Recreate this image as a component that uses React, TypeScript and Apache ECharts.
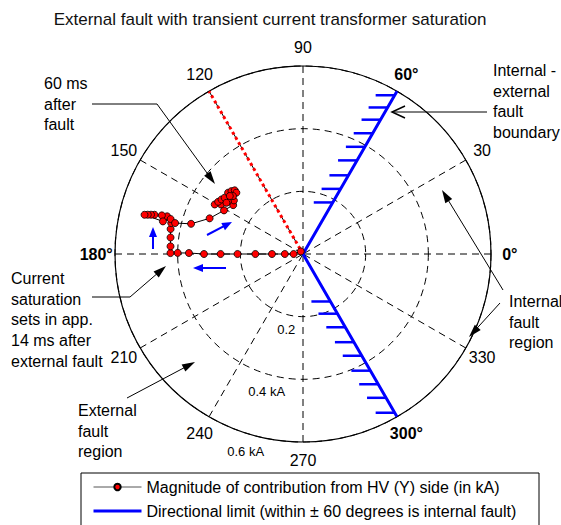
import React, { useEffect, useRef } from 'react';
import * as echarts from 'echarts';

// Trajectory of the HV (Y) side contribution: magnitude in kA, angle in degrees
const magnitudes = [
  0.011, 0.03, 0.058, 0.099, 0.152, 0.209, 0.263, 0.316, 0.364, 0.4, 0.423,
  0.4235, 0.426, 0.43, 0.432,
  0.45, 0.467, 0.49, 0.501, 0.511, 0.521,
  0.459, 0.437, 0.42, 0.37, 0.319, 0.288, 0.272, 0.279, 0.292,
  0.306, 0.323, 0.318, 0.313, 0.308, 0.309, 0.304, 0.298, 0.289, 0.29, 0.298, 0.294,
];
const angles = [
  131, 180, 180, 180, 180, 180, 180, 180, 179.5, 179.5, 179.6,
  176.7, 172.9, 169.3, 166.8,
  164.5, 164.7, 165.2, 165.5, 165.8, 166.1,
  166.9, 165.2, 166.4, 164.9, 159.1, 151.1, 145, 142.2, 145.1,
  148.9, 150.7, 148.4, 146.2, 144.3, 140.7, 138.7, 137, 137.4, 140.4, 141.6, 146.2,
];

// Directional limit (60 deg .. 300 deg through origin)
const limitRadius = [0.61, 0, 0.6];
const limitAngle = [60, 60, 300];
// Hatch positions on the directional limit
const hatchUpperRadius = [0.19, 0.24, 0.29, 0.345, 0.395, 0.445, 0.495, 0.54, 0.585];
const hatchLowerRadius = [0.175, 0.22, 0.27, 0.325, 0.375, 0.43, 0.48, 0.53, 0.585];

// 120 deg reference line
const refRadius = [0, 0.6];
const refAngle = [120, 120];

// Angle tick labels
const angleTicks = [0, 30, 60, 90, 120, 150, 180, 210, 240, 270, 300, 330];
const angleTickLabels = ['0°', '30', '60°', '90', '120', '150', '180°', '210', '240', '270', '300°', '330'];
const boldAngleTicks = [0, 60, 180, 300];
const angleLabelRadius = 0.66;

// Radial tick labels
const radialTickLabels = ['0.2', '0.4 kA', '0.6 kA'];
const radialLabelRadius = [0.247, 0.454, 0.656];
const radialLabelAngle = [257.5, 255.2, 253.8];

const seriesName = 'Magnitude of contribution from HV (Y) side (in kA)';
const limitName = 'Directional limit (within ± 60 degrees is internal fault)';
const titleText = 'External fault with transient current transformer saturation';

const FONT = '"Liberation Sans", Arial, Helvetica, sans-serif';

function head(tx: number, ty: number, fx: number, fy: number, len: number, w: number, fill: string) {
  const dx = tx - fx;
  const dy = ty - fy;
  const d = Math.sqrt(dx * dx + dy * dy);
  const ux = dx / d;
  const uy = dy / d;
  const bx = tx - ux * len;
  const by = ty - uy * len;
  return {
    type: 'polygon',
    shape: { points: [[tx, ty], [bx - uy * w / 2, by + ux * w / 2], [bx + uy * w / 2, by - ux * w / 2]] },
    style: { fill },
    silent: true,
  };
}

function arrow(points: number[][], color: string, width: number, len: number, w: number) {
  const n = points.length;
  const tip = points[n - 1];
  const prev = points[n - 2];
  const dx = tip[0] - prev[0];
  const dy = tip[1] - prev[1];
  const d = Math.sqrt(dx * dx + dy * dy);
  const shaft = points.slice(0, n - 1).concat([[tip[0] - (dx / d) * len * 0.8, tip[1] - (dy / d) * len * 0.8]]);
  return [
    { type: 'polyline', shape: { points: shaft }, style: { stroke: color, lineWidth: width, fill: 'none' }, silent: true },
    head(tip[0], tip[1], prev[0], prev[1], len, w, color),
  ];
}

function label(text: string, x: number, y: number, extra: any = {}) {
  return {
    type: 'text',
    x,
    y,
    style: { text, font: `16px ${FONT}`, fill: '#000', lineHeight: 20.7, verticalAlign: 'top', ...extra },
    silent: true,
  };
}

export default function App() {
  const ref = useRef<HTMLDivElement>(null);

  useEffect(() => {
    if (!ref.current) return;
    const chart = echarts.init(ref.current, undefined, { renderer: 'svg' });

    const data = magnitudes.map((m, i) => [m, angles[i]]);
    const limitData = limitRadius.map((r, i) => [r, limitAngle[i]]);
    const refData = refRadius.map((r, i) => [r, refAngle[i]]);
    const hatchData = hatchUpperRadius.map((r) => [r, 60]).concat(hatchLowerRadius.map((r) => [r, 300]));
    const angleLabelData = angleTicks.map((a) => [angleLabelRadius, a]);
    const radialLabelData = radialLabelRadius.map((r, i) => [r, radialLabelAngle[i]]);

    const graphics: any[] = [
      {
        type: 'text', x: 270, y: 19,
        style: { text: titleText, font: `17px ${FONT}`, fill: '#111', align: 'center', verticalAlign: 'middle' },
        silent: true,
      },
      label('60 ms\nafter\nfault', 44, 73),
      label('Internal -\nexternal\nfault\nboundary', 493, 60),
      label('Current\nsaturation\nsets in app.\n14 ms after\nexternal fault', 11, 268),
      label('External\nfault\nregion', 78, 400),
      label('Internal\nfault\nregion', 509, 291),
      // annotation arrows
      ...arrow([[92, 104], [157, 104], [215, 184]], '#000', 1, 13, 8),
      ...arrow([[92, 297], [130, 297], [166, 266]], '#000', 1, 13, 8),
      ...arrow([[127, 398], [195, 362]], '#000', 1, 13, 8),
      ...arrow([[503, 290], [442, 190]], '#000', 1, 13, 8),
      ...arrow([[500, 303], [469, 337]], '#000', 1, 13, 8),
      { type: 'polyline', shape: { points: [[487, 112], [392, 112]] }, style: { stroke: '#000', lineWidth: 1 }, silent: true },
      { type: 'polyline', shape: { points: [[405, 106], [392, 112], [405, 118]] }, style: { stroke: '#000', lineWidth: 1.5, fill: 'none' }, silent: true },
      // blue direction arrows
      ...arrow([[153, 249], [153, 227]], '#0000ff', 2, 10, 8),
      ...arrow([[207, 235], [232, 222]], '#0000ff', 2, 10, 8),
      ...arrow([[226, 268], [193, 268]], '#0000ff', 2, 10, 8),
      // legend frame
      {
        type: 'rect', shape: { x: 81, y: 473, width: 458, height: 60 },
        style: { fill: '#fff', stroke: '#000', lineWidth: 1 }, z: -1, silent: true,
      },
    ];

    chart.setOption({
      animation: false,
      backgroundColor: '#fff',
      polar: { center: [303, 254], radius: 188 },
      angleAxis: {
        type: 'value', min: 0, max: 360, interval: 30, startAngle: 0, clockwise: false,
        axisLine: { show: true, lineStyle: { color: '#000', width: 1.2 } },
        axisTick: { show: false },
        axisLabel: { show: false },
        splitLine: { show: true, lineStyle: { color: '#000', width: 1, type: [7, 5] } },
      },
      radiusAxis: {
        type: 'value', min: 0, max: 0.6, interval: 0.2,
        axisLine: { show: false },
        axisTick: { show: false },
        axisLabel: { show: false },
        splitLine: { show: true, lineStyle: { color: '#000', width: 1, type: [7, 5] } },
      },
      legend: {
        orient: 'vertical', left: 92, top: 479, width: 460, height: 80, padding: 0,
        itemWidth: 48, itemHeight: 8, itemGap: 8,
        textStyle: { fontFamily: FONT, fontSize: 16, color: '#000' },
        data: [
          { name: seriesName, lineStyle: { color: '#555', width: 1 } },
          { name: limitName, lineStyle: { color: '#0000ff', width: 3 }, itemStyle: { opacity: 0 } },
        ],
      },
      graphic: graphics,
      series: [
        {
          type: 'line', name: 'ref120', coordinateSystem: 'polar', data: refData,
          symbol: 'none', clip: false, silent: true,
          lineStyle: { color: '#ff0000', width: 3, type: [3, 3] }, z: 3,
        },
        {
          type: 'line', name: limitName, coordinateSystem: 'polar', data: limitData,
          symbol: 'none', clip: false, silent: true,
          lineStyle: { color: '#0000ff', width: 3 }, itemStyle: { color: '#0000ff' }, z: 4,
        },
        {
          type: 'custom', name: 'hatch', coordinateSystem: 'polar', data: hatchData, silent: true, z: 4,
          renderItem: (params: any, api: any) => {
            const p = api.coord([api.value(0), api.value(1)]);
            return {
              type: 'line',
              shape: { x1: p[0] - 19, y1: p[1], x2: p[0], y2: p[1] },
              style: { stroke: '#0000ff', lineWidth: 2.5 },
            };
          },
        },
        {
          type: 'line', name: seriesName, coordinateSystem: 'polar', data,
          symbol: 'circle', symbolSize: 7, clip: false, silent: true,
          lineStyle: { color: '#000', width: 1 },
          itemStyle: { color: '#ff0000', borderColor: '#000', borderWidth: 0.8 }, z: 5,
        },
        {
          type: 'custom', name: 'angleLabels', coordinateSystem: 'polar', data: angleLabelData, silent: true, z: 6,
          renderItem: (params: any, api: any) => {
            const p = api.coord([api.value(0), api.value(1)]);
            const a = angleTicks[params.dataIndex];
            const bold = boldAngleTicks.indexOf(a) >= 0;
            return {
              type: 'text', x: p[0], y: p[1],
              style: {
                text: angleTickLabels[params.dataIndex],
                font: `${bold ? 'bold ' : ''}16px ${FONT}`,
                fill: '#000', align: 'center', verticalAlign: 'middle',
              },
            };
          },
        },
        {
          type: 'custom', name: 'radialLabels', coordinateSystem: 'polar', data: radialLabelData, silent: true, z: 6,
          renderItem: (params: any, api: any) => {
            const p = api.coord([api.value(0), api.value(1)]);
            return {
              type: 'text', x: p[0], y: p[1],
              style: {
                text: radialTickLabels[params.dataIndex],
                font: `13px ${FONT}`,
                fill: '#000', align: 'center', verticalAlign: 'middle',
              },
            };
          },
        },
      ],
    });

    return () => chart.dispose();
  }, []);

  return <div ref={ref} style={{ position: 'absolute', left: 0, top: 0, width: 561, height: 525 }} />;
}
